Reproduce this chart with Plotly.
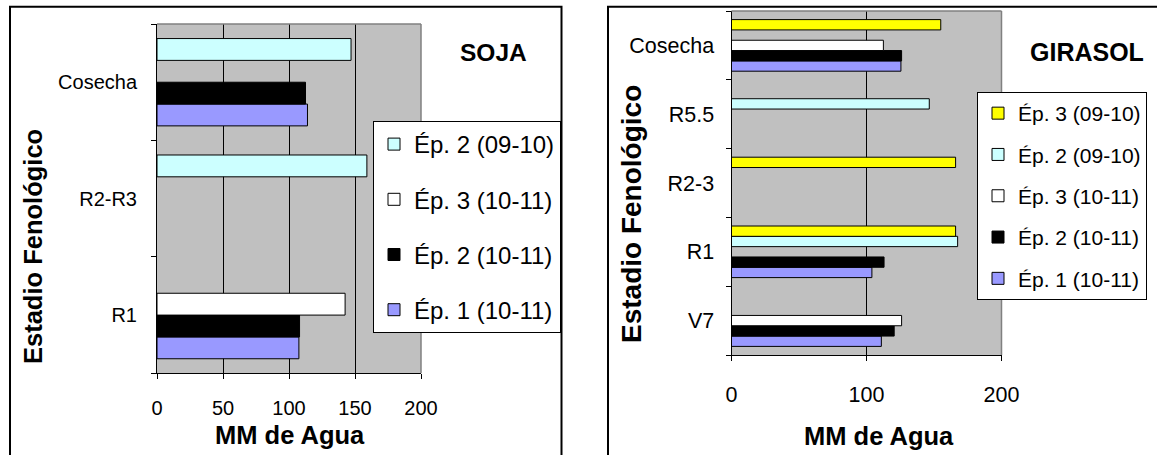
import plotly.graph_objects as go

# ---- data -----------------------------------------------------------------
soja_stages = ["R1", "R2-R3", "Cosecha"]
soja_series = ["Ép. 1 (10-11)", "Ép. 2 (10-11)", "Ép. 3 (10-11)", "Ép. 2 (09-10)"]
soja_ep1_1011 = [107.5, None, 114]
soja_ep2_1011 = [108, None, 112.5]
soja_ep3_1011 = [142.5, None, None]
soja_ep2_0910 = [None, 159, 147]

gira_stages = ["V7", "R1", "R2-3", "R5.5", "Cosecha"]
gira_series = ["Ép. 1 (10-11)", "Ép. 2 (10-11)", "Ép. 3 (10-11)", "Ép. 2 (09-10)", "Ép. 3 (09-10)"]
gira_ep1_1011 = [111, 104, None, None, 125.5]
gira_ep2_1011 = [120.5, 113, None, None, 126]
gira_ep3_1011 = [126, None, None, None, 112.5]
gira_ep2_0910 = [None, 167.5, None, 146.5, None]
gira_ep3_0910 = [None, 166, 166, None, 155]

# ---- styling --------------------------------------------------------------
W, H = 1157, 455
FONT = "Liberation Sans, Arial, sans-serif"
GRAY = "#C0C0C0"
series_colors = {
    "Ép. 1 (10-11)": "#9999FF",
    "Ép. 2 (10-11)": "#000000",
    "Ép. 3 (10-11)": "#FFFFFF",
    "Ép. 2 (09-10)": "#CCFFFF",
    "Ép. 3 (09-10)": "#FFFF00",
}


def px_x(x):
    return x / W


def px_y(y):
    return 1 - y / H


fig = go.Figure()

soja_values = [soja_ep1_1011, soja_ep2_1011, soja_ep3_1011, soja_ep2_0910]
for i, (name, vals) in enumerate(zip(soja_series, soja_values)):
    fig.add_trace(go.Bar(
        y=soja_stages, x=vals, name=name, orientation="h",
        marker=dict(color=series_colors[name], line=dict(color="black", width=1)),
        xaxis="x", yaxis="y", legend="legend",
        legendgroup="soja%d" % i, legendrank=100 - i,
        hoverinfo="x+name",
    ))

gira_values = [gira_ep1_1011, gira_ep2_1011, gira_ep3_1011, gira_ep2_0910, gira_ep3_0910]
for i, (name, vals) in enumerate(zip(gira_series, gira_values)):
    fig.add_trace(go.Bar(
        y=gira_stages, x=vals, name=name, orientation="h",
        marker=dict(color=series_colors[name], line=dict(color="black", width=1)),
        xaxis="x2", yaxis="y2", legend="legend2",
        legendgroup="gira%d" % i, legendrank=100 - i,
        hoverinfo="x+name",
    ))

# plot-area rectangles in pixels (left, top, right, bottom)
soja_box = (157, 24, 421, 373.3)
gira_box = (731.5, 11, 1001.5, 355)


def xaxis_style(box, dtick, size, standoff):
    return dict(
        domain=[px_x(box[0]), px_x(box[2])], range=[0, 200], dtick=dtick, tick0=0,
        showgrid=True, gridcolor="black", gridwidth=1, zeroline=False,
        showline=True, linecolor="black", linewidth=1,
        ticks="outside", ticklen=5, tickcolor="black", tickwidth=1,
        tickfont=dict(family=FONT, size=size, color="black"),
        ticklabelstandoff=standoff, fixedrange=True, automargin=False,
    )


def yaxis_style(box, cats, size, standoff):
    return dict(
        domain=[px_y(box[3]), px_y(box[1])], type="category",
        categoryorder="array", categoryarray=cats, tickson="boundaries",
        showgrid=False, zeroline=False,
        showline=True, linecolor="black", linewidth=1,
        ticks="outside", ticklen=5, tickcolor="black", tickwidth=1,
        tickfont=dict(family=FONT, size=size, color="black"),
        ticklabelstandoff=standoff, fixedrange=True, automargin=False,
    )


def legend_style(right, top, size, gap):
    return dict(
        x=px_x(right), xanchor="right", y=px_y(top), yanchor="top",
        bgcolor="white", bordercolor="black", borderwidth=1,
        font=dict(family=FONT, size=size, color="black"),
        traceorder="grouped", tracegroupgap=gap,
    )


shapes = []
# chart frames
shapes.append(dict(type="rect", xref="paper", yref="paper",
                   x0=px_x(10), x1=px_x(561.5), y0=px_y(470), y1=px_y(6.7),
                   line=dict(color="black", width=2), fillcolor="rgba(0,0,0,0)", layer="below"))
shapes.append(dict(type="rect", xref="paper", yref="paper",
                   x0=px_x(608), x1=px_x(1170), y0=px_y(470), y1=px_y(6.7),
                   line=dict(color="black", width=2), fillcolor="rgba(0,0,0,0)", layer="below"))
# gray plot-area border on the top and right edges
for box in (soja_box, gira_box):
    shapes.append(dict(type="line", xref="paper", yref="paper",
                       x0=px_x(box[0]), x1=px_x(box[2]), y0=px_y(box[1]), y1=px_y(box[1]),
                       line=dict(color="#808080", width=1.5), layer="above"))
    shapes.append(dict(type="line", xref="paper", yref="paper",
                       x0=px_x(box[2]), x1=px_x(box[2]), y0=px_y(box[1]), y1=px_y(box[3]),
                       line=dict(color="#808080", width=1.5), layer="above"))


def label(text, x, y, size, angle=0):
    return dict(text=text, x=px_x(x), y=px_y(y), xref="paper", yref="paper",
                showarrow=False, textangle=angle, xanchor="center", yanchor="middle",
                font=dict(family=FONT, size=size, color="black"))


annotations = [
    label("<b>SOJA</b>", 493, 52, 24.5),
    label("<b>GIRASOL</b>", 1087, 52, 25),
    label("<b>MM de Agua</b>", 290, 435, 25.5),
    label("<b>MM de Agua</b>", 879, 436, 25.5),
    label("<b>Estadio Fenológico</b>", 33, 247, 25.5, -90),
    label("<b>Estadio Fenológico</b>", 631, 214, 28, -90),
]

fig.update_layout(
    width=W, height=H, autosize=False,
    margin=dict(l=0, r=0, t=0, b=0, pad=0, autoexpand=False),
    paper_bgcolor="white", plot_bgcolor=GRAY,
    barmode="group", bargap=0.25, bargroupgap=0,
    font=dict(family=FONT, color="black"),
    xaxis=xaxis_style(soja_box, 50, 20, 12),
    yaxis=yaxis_style(soja_box, soja_stages, 20, 15),
    xaxis2=xaxis_style(gira_box, 100, 21.5, 15),
    yaxis2=yaxis_style(gira_box, gira_stages, 21.5, 12),
    legend=legend_style(561, 121, 24, 21),
    legend2=legend_style(1147, 92, 21, 11),
    shapes=shapes, annotations=annotations,
    showlegend=True,
)
fig.update_layout(xaxis=dict(anchor="y"), yaxis=dict(anchor="x"),
                  xaxis2=dict(anchor="y2"), yaxis2=dict(anchor="x2"))

fig.write_html("out.html", config={"displayModeBar": False, "responsive": False})
